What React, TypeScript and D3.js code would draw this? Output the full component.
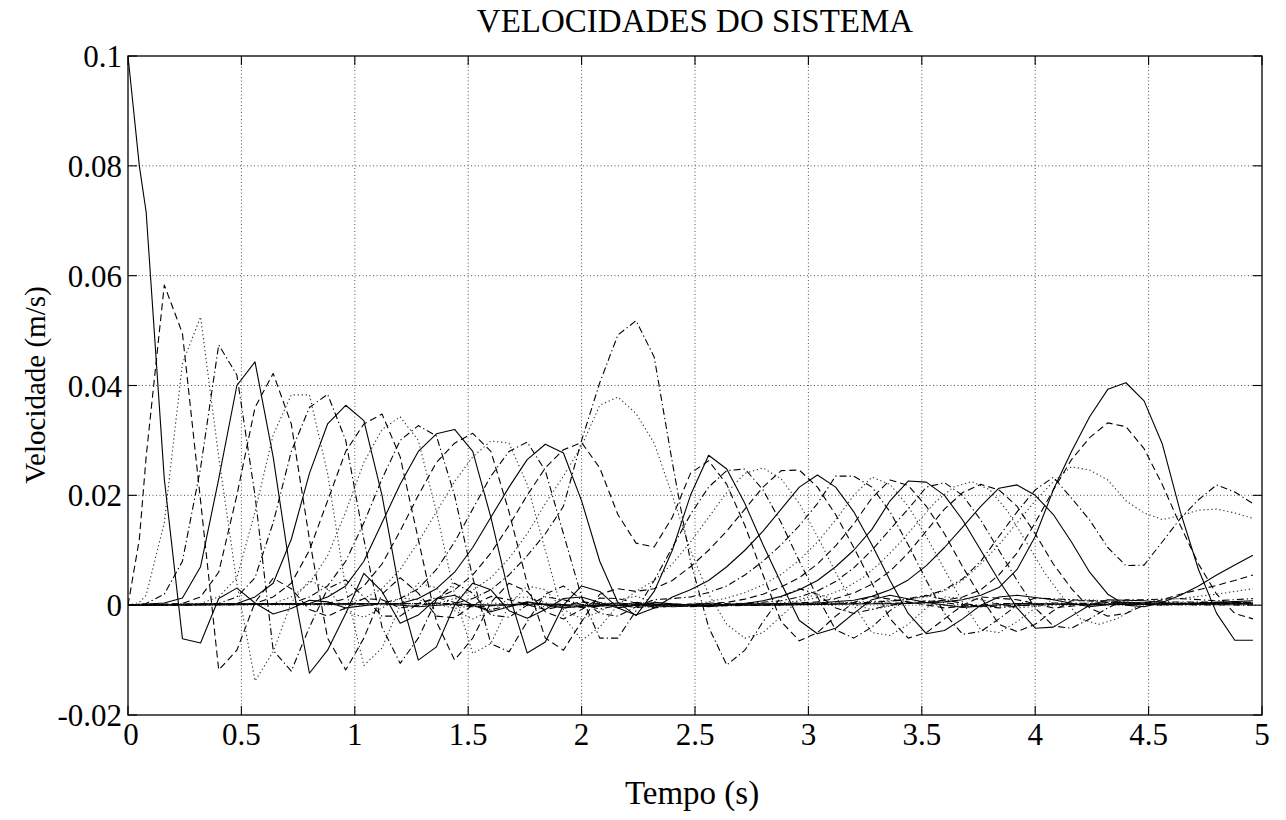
import React from "react";
import * as d3 from "d3";

const TITLE = "VELOCIDADES DO SISTEMA";
const X_LABEL = "Tempo (s)";
const Y_LABEL = "Velocidade (m/s)";

const xTicks = [0, 0.5, 1, 1.5, 2, 2.5, 3, 3.5, 4, 4.5, 5];
const xTickLabels = ["0", "0.5", "1", "1.5", "2", "2.5", "3", "3.5", "4", "4.5", "5"];
const yTicks = [-0.02, 0, 0.02, 0.04, 0.06, 0.08, 0.1];
const yTickLabels = ["-0.02", "0", "0.02", "0.04", "0.06", "0.08", "0.1"];

// Velocity of each mass: [time (s), velocity (mm/s)]
const mass01: [number, number][] = [[0,100],[0.05,80],[0.08,71.6],[0.16,23],[0.24,-6.1],[0.32,-6.9],[0.40,1.2],[0.48,3.1],[0.56,0.4],[0.64,-1.6],[0.72,-0.6],[0.80,0.9],[0.88,0.6],[0.96,-0.5],[1.12,0.3],[1.28,-0.3],[1.44,0.2],[1.60,0],[1.84,0.2],[2.08,-0.1],[2.40,0.1],[2.80,0],[3.20,0.2],[3.44,0.3],[3.60,0.6],[3.68,1],[3.76,1.8],[3.84,3.2],[3.92,6.5],[4.00,12.5],[4.08,21],[4.16,28],[4.24,34.3],[4.32,39.3],[4.40,40.5],[4.48,37.2],[4.56,29.4],[4.64,17],[4.72,6.5],[4.80,-1.5],[4.88,-6.4],[4.96,-6.4]];
const mass02: [number, number][] = [[0,0],[0.05,12],[0.08,27],[0.16,58.3],[0.24,49.5],[0.32,19],[0.40,-11.8],[0.48,-8.2],[0.56,0.5],[0.64,4.9],[0.72,3],[0.80,-0.8],[0.88,-2],[0.96,-0.5],[1.04,1.2],[1.12,1],[1.20,-0.5],[1.36,0.4],[1.52,-0.3],[1.76,0.3],[2.00,-0.2],[2.40,0.2],[2.80,0],[3.20,0.3],[3.44,0.4],[3.60,0.9],[3.68,1.5],[3.76,2.8],[3.84,5.5],[3.92,9.5],[4.00,15],[4.08,21],[4.16,26.5],[4.24,30.5],[4.32,33.2],[4.40,32.5],[4.48,28.5],[4.56,22],[4.64,14.5],[4.72,7.5],[4.80,2],[4.88,-1.5],[4.96,-2.5]];
const mass03: [number, number][] = [[0,0],[0.05,0.5],[0.08,1.8],[0.16,15],[0.24,44],[0.32,52.5],[0.40,27],[0.48,4],[0.56,-13.8],[0.64,-8.5],[0.72,0.5],[0.80,4.5],[0.88,3],[0.96,-1.2],[1.04,-2.2],[1.12,-0.5],[1.20,1.3],[1.28,1],[1.44,-0.6],[1.60,0.4],[1.84,-0.3],[2.08,0.3],[2.40,-0.2],[2.80,0.2],[3.12,0.4],[3.36,0.8],[3.52,1.5],[3.60,2.6],[3.68,4.5],[3.76,7.5],[3.84,11],[3.92,15],[4.00,19],[4.08,22.5],[4.16,25.2],[4.24,24.6],[4.32,22.8],[4.40,19],[4.48,16.8],[4.56,15.6],[4.64,16.3],[4.72,17.3],[4.80,17.5],[4.88,16.8],[4.96,15.8]];
const mass04: [number, number][] = [[0,0],[0.08,0.3],[0.16,2],[0.24,8],[0.32,25],[0.40,47.4],[0.48,41.9],[0.56,20],[0.64,-8.2],[0.72,-12],[0.80,-4],[0.88,3],[0.96,4.6],[1.04,1.5],[1.12,-2],[1.20,-2],[1.28,0.3],[1.36,1.4],[1.44,0.5],[1.60,-0.8],[1.76,0.5],[2.00,-0.4],[2.24,0.3],[2.56,-0.2],[2.96,0.2],[3.28,0.5],[3.44,1],[3.52,1.7],[3.60,2.8],[3.68,4.8],[3.76,8],[3.84,12.5],[3.92,17],[4.00,21],[4.08,23.3],[4.16,19.5],[4.24,15.5],[4.32,10.5],[4.40,7.2],[4.48,7.3],[4.56,11.5],[4.64,15.8],[4.72,19.2],[4.80,21.9],[4.88,20.6],[4.96,18.5]];
const mass05: [number, number][] = [[0,0],[0.16,0.4],[0.24,1.3],[0.32,7],[0.40,23],[0.48,40],[0.56,44.3],[0.64,27],[0.72,5],[0.80,-12.4],[0.88,-8.2],[0.96,-1.5],[1.04,5.8],[1.12,2.5],[1.20,-3.3],[1.28,-1.8],[1.36,1.2],[1.44,1.8],[1.52,0],[1.60,-1.2],[1.76,0.6],[1.92,-0.5],[2.16,0.4],[2.40,-0.3],[2.72,0.2],[3.04,0.4],[3.20,0.9],[3.28,1.6],[3.36,2.8],[3.44,4.6],[3.52,7.2],[3.60,10.5],[3.68,14.2],[3.76,18],[3.84,21.3],[3.92,21.9],[4.00,20],[4.08,16.5],[4.16,11.5],[4.24,6],[4.32,2],[4.40,0],[4.48,-0.3],[4.56,0.5],[4.64,1.8],[4.72,3.5],[4.80,5.5],[4.88,7.3],[4.96,9.1]];
const mass06: [number, number][] = [[0,0],[0.24,0.3],[0.32,1.5],[0.40,6],[0.48,20],[0.56,36],[0.64,42.2],[0.72,33],[0.80,12],[0.88,-6],[0.96,-11.8],[1.04,-6],[1.12,2],[1.20,5],[1.28,2.2],[1.36,-2],[1.44,-2.3],[1.52,0],[1.60,1.6],[1.68,1],[1.84,-0.8],[2.00,0.6],[2.24,-0.4],[2.56,0.3],[2.88,0.2],[3.04,0.6],[3.12,1.2],[3.20,2.2],[3.28,3.8],[3.36,6.2],[3.44,9.5],[3.52,13.5],[3.60,17.5],[3.68,20.5],[3.76,22],[3.84,21],[3.92,18],[4.00,13],[4.08,7.5],[4.16,3],[4.24,-0.5],[4.32,-2],[4.40,-1.5],[4.48,0],[4.56,1],[4.64,2],[4.72,2.8],[4.80,3.6],[4.88,4.5],[4.96,5.5]];
const mass07: [number, number][] = [[0,0],[0.32,0.3],[0.40,1.5],[0.48,5],[0.56,17],[0.64,31],[0.72,38.3],[0.80,38.3],[0.88,24],[0.96,3],[1.04,-11],[1.12,-7.8],[1.20,0],[1.28,4],[1.36,3.2],[1.44,-1],[1.52,-2.5],[1.60,-1],[1.68,1.2],[1.76,1.5],[1.92,-0.6],[2.08,0.5],[2.32,-0.4],[2.64,0.3],[2.88,0.4],[3.00,1],[3.08,1.8],[3.16,3],[3.24,5],[3.32,7.8],[3.40,11.2],[3.48,15],[3.56,18.8],[3.64,21.5],[3.72,22.5],[3.80,21],[3.88,17],[3.96,11.5],[4.04,6],[4.12,1.5],[4.20,-2.5],[4.28,-3.5],[4.36,-2.5],[4.44,-0.5],[4.52,0.8],[4.64,1.2],[4.80,2],[4.96,3]];
const mass08: [number, number][] = [[0,0],[0.40,0.3],[0.48,1.5],[0.56,5],[0.64,15],[0.72,28],[0.80,36],[0.88,38.4],[0.96,30],[1.04,12],[1.12,-4],[1.20,-10.6],[1.28,-6],[1.36,1],[1.44,4],[1.52,2.2],[1.60,-1.8],[1.68,-2.2],[1.76,0],[1.84,1.5],[1.92,1],[2.08,-0.7],[2.24,0.5],[2.48,-0.3],[2.72,0.3],[2.88,0.8],[2.96,1.5],[3.04,2.6],[3.12,4.3],[3.20,6.8],[3.28,10],[3.36,13.8],[3.44,17.5],[3.52,21.5],[3.60,22.3],[3.68,20],[3.76,15.5],[3.84,10],[3.92,4.5],[4.00,-0.5],[4.08,-3.8],[4.16,-4.2],[4.24,-2.5],[4.32,-0.5],[4.40,1],[4.48,1],[4.64,1.2],[4.80,0.8],[4.96,1.2]];
const mass09: [number, number][] = [[0,0],[0.48,0.3],[0.56,1.5],[0.64,4],[0.72,12],[0.80,24],[0.88,33],[0.96,36.4],[1.04,33.6],[1.12,20],[1.20,2],[1.28,-10],[1.36,-7.6],[1.44,0],[1.52,4],[1.60,2.8],[1.68,-1],[1.76,-2.4],[1.84,-0.8],[1.92,1.2],[2.00,1.5],[2.16,-0.5],[2.32,0.5],[2.56,-0.3],[2.72,0.3],[2.80,0.8],[2.88,1.6],[2.96,2.8],[3.04,4.5],[3.12,7],[3.20,10],[3.28,13.8],[3.36,19],[3.44,22.6],[3.52,22.4],[3.60,20],[3.68,15.5],[3.76,10],[3.84,4.5],[3.92,-0.5],[4.00,-4.2],[4.08,-4],[4.16,-2],[4.24,0],[4.32,1],[4.48,0.8],[4.64,0.2],[4.80,0.5],[4.96,0.8]];
const mass10: [number, number][] = [[0,0],[0.56,0.3],[0.64,1.5],[0.72,4],[0.80,10],[0.88,19],[0.96,28],[1.04,33],[1.12,34.8],[1.20,27],[1.28,12],[1.36,-3],[1.44,-10],[1.52,-6],[1.60,0.5],[1.68,4],[1.76,2.5],[1.84,-1.2],[1.92,-2.5],[2.00,-0.8],[2.08,1.3],[2.16,1.2],[2.32,-0.5],[2.48,0.2],[2.64,0.5],[2.72,1.1],[2.80,2],[2.88,3.3],[2.96,5],[3.04,7.5],[3.12,10.8],[3.20,14.8],[3.28,19.5],[3.36,22.8],[3.44,21.8],[3.52,18],[3.60,13],[3.68,7],[3.76,1.5],[3.84,-3.5],[3.92,-4.8],[4.00,-3.5],[4.08,-1],[4.16,0.8],[4.32,0.8],[4.56,0],[4.72,0.4],[4.96,0.5]];
const mass11: [number, number][] = [[0,0],[0.64,0.3],[0.72,1.5],[0.80,4],[0.88,9],[0.96,17],[1.04,26],[1.12,32],[1.20,34.3],[1.28,30],[1.36,17],[1.44,2],[1.52,-8.8],[1.60,-7],[1.68,0],[1.76,3.5],[1.84,2.8],[1.92,-0.8],[2.00,-2.5],[2.08,-1.2],[2.16,1],[2.24,1.6],[2.40,-0.3],[2.56,0.6],[2.64,1.3],[2.72,2.3],[2.80,3.7],[2.88,5.6],[2.96,8.2],[3.04,11.5],[3.12,15.5],[3.20,20],[3.28,23.3],[3.36,22],[3.44,18],[3.52,12.5],[3.60,6.5],[3.68,0.5],[3.76,-4.5],[3.84,-5],[3.92,-3],[4.00,-0.5],[4.08,1],[4.24,1],[4.48,0.2],[4.64,0.5],[4.96,0.4]];
const mass12: [number, number][] = [[0,0],[0.72,0.3],[0.80,1.5],[0.88,3.5],[0.96,8],[1.04,15],[1.12,23],[1.20,30],[1.28,32.7],[1.36,30.8],[1.44,20],[1.52,5],[1.60,-7],[1.68,-8.5],[1.76,-3],[1.84,2],[1.92,3.5],[2.00,1],[2.08,-1.5],[2.16,-2],[2.24,-0.3],[2.32,1],[2.40,1.2],[2.48,1.5],[2.56,2.3],[2.64,3.5],[2.72,5.5],[2.80,8],[2.88,11],[2.96,14.5],[3.04,18.5],[3.12,23.5],[3.20,23.5],[3.28,21.5],[3.36,17],[3.44,11],[3.52,4.5],[3.60,-1.5],[3.68,-5.3],[3.76,-4.8],[3.84,-2.5],[3.92,0],[4.00,1.3],[4.16,1],[4.40,0.3],[4.56,0.6],[4.96,0.5]];
const mass13: [number, number][] = [[0,0],[0.80,0.3],[0.88,1.5],[0.96,3.5],[1.04,8],[1.12,15],[1.20,22],[1.28,28],[1.36,31.2],[1.44,32],[1.52,28],[1.60,16],[1.68,2],[1.76,-8.7],[1.84,-6.7],[1.92,0],[2.00,3.5],[2.08,2.5],[2.16,-0.5],[2.24,-1.8],[2.32,-0.5],[2.40,1.5],[2.48,2.8],[2.56,4.5],[2.64,7],[2.72,10],[2.80,13.5],[2.88,17.5],[2.96,21.5],[3.04,23.7],[3.12,21.5],[3.20,17],[3.28,11],[3.36,4.5],[3.44,-1.5],[3.52,-5.2],[3.60,-4.6],[3.68,-2.5],[3.76,0],[3.84,1.5],[3.92,1.8],[4.08,1],[4.24,-0.3],[4.40,0.5],[4.64,0.2],[4.96,0.4]];
const mass14: [number, number][] = [[0,0],[0.88,0.3],[0.96,1.2],[1.04,3.5],[1.12,7.5],[1.20,13.5],[1.28,20],[1.36,26],[1.44,29.5],[1.52,31.3],[1.60,28],[1.68,17],[1.76,4],[1.84,-6],[1.92,-8.2],[2.00,-3],[2.08,2],[2.16,3],[2.24,2.5],[2.32,3],[2.40,4.5],[2.48,7],[2.56,10],[2.64,13.5],[2.72,17.5],[2.80,21.5],[2.88,24.5],[2.96,24.6],[3.04,21.5],[3.12,16.5],[3.20,10.5],[3.28,4],[3.36,-2.5],[3.44,-6],[3.52,-5],[3.60,-2.5],[3.68,0],[3.76,1.5],[3.92,1],[4.08,-0.5],[4.32,0.5],[4.56,0.3],[4.96,0.5]];
const mass15: [number, number][] = [[0,0],[0.96,0.3],[1.04,1.2],[1.12,3],[1.20,6.5],[1.28,11.5],[1.36,17],[1.44,22.5],[1.52,27],[1.60,29.9],[1.68,29.5],[1.76,22],[1.84,10],[1.92,-2],[2.00,-6.4],[2.08,-4],[2.16,0],[2.24,2.5],[2.32,4.5],[2.40,7.5],[2.48,11.5],[2.56,16],[2.64,20.5],[2.72,24],[2.80,25],[2.88,23],[2.96,18.5],[3.04,12.5],[3.12,6],[3.20,0],[3.28,-5],[3.36,-5.5],[3.44,-3.5],[3.52,-0.5],[3.60,1.5],[3.76,1],[3.92,-0.5],[4.16,0.3],[4.40,0.6],[4.64,0.2],[4.96,0.4]];
const mass16: [number, number][] = [[0,0],[1.12,0.3],[1.20,1.2],[1.28,3],[1.36,6.5],[1.44,11.5],[1.52,17.5],[1.60,23.5],[1.68,28],[1.76,29.7],[1.84,24.5],[1.92,13],[2.00,1.5],[2.08,-6],[2.16,-6],[2.24,-1],[2.32,4.5],[2.40,10.5],[2.48,16.5],[2.56,21.5],[2.64,24.5],[2.72,24.8],[2.80,21],[2.88,15],[2.96,8],[3.04,1.5],[3.12,-4.5],[3.20,-6],[3.28,-4],[3.36,-1],[3.44,1.2],[3.52,1.8],[3.68,0.3],[3.84,-0.5],[4.08,0.4],[4.40,0.2],[4.96,0.3]];
const mass17: [number, number][] = [[0,0],[1.20,0.3],[1.28,1.2],[1.36,3],[1.44,6],[1.52,10.5],[1.60,16],[1.68,21.5],[1.76,26.5],[1.84,29.3],[1.92,27.7],[2.00,19],[2.08,8],[2.16,0.5],[2.24,-1.9],[2.32,2.5],[2.40,10],[2.48,20],[2.56,27.3],[2.64,24.8],[2.72,18.5],[2.80,11],[2.88,4],[2.96,-2.8],[3.04,-5.2],[3.12,-4.2],[3.20,-1.5],[3.28,1],[3.36,1.8],[3.52,0.5],[3.68,-0.4],[3.92,0.3],[4.24,0.1],[4.96,0.2]];
const mass18: [number, number][] = [[0,0],[1.28,0.3],[1.36,1.2],[1.44,2.8],[1.52,5.5],[1.60,9.5],[1.68,14.5],[1.76,20],[1.84,25],[1.92,28.3],[2.00,29.6],[2.08,25],[2.16,16.5],[2.24,11.3],[2.32,10.6],[2.40,16],[2.48,24],[2.56,26.3],[2.64,22],[2.72,14.5],[2.80,5.5],[2.88,-3],[2.96,-6.5],[3.04,-5],[3.12,-2],[3.20,0.5],[3.28,1.6],[3.44,0.6],[3.60,-0.5],[3.84,0.3],[4.24,0.1],[4.96,0.2]];
const mass19: [number, number][] = [[0,0],[1.36,0.3],[1.44,1.2],[1.52,2.7],[1.60,5],[1.68,8.5],[1.76,13],[1.84,18.5],[1.92,23.5],[2.00,29],[2.08,36.4],[2.16,37.9],[2.24,34.9],[2.32,29.5],[2.40,20],[2.48,10],[2.56,2],[2.64,-3.5],[2.72,-6],[2.80,-5],[2.88,-2],[2.96,1],[3.04,2],[3.12,1],[3.28,-0.8],[3.44,0.5],[3.68,-0.3],[4.00,0.2],[4.96,0.1]];
const mass20: [number, number][] = [[0,0],[1.44,0.3],[1.52,1.2],[1.60,2.8],[1.68,5.5],[1.76,9],[1.84,13],[1.92,18],[2.00,30],[2.08,40.5],[2.16,49.2],[2.24,51.8],[2.32,45.2],[2.40,26],[2.48,8],[2.56,-4],[2.64,-10.9],[2.72,-8.2],[2.80,-3],[2.88,1.5],[2.96,3],[3.04,2],[3.12,-0.5],[3.20,-1.5],[3.36,0],[3.52,0.8],[3.76,-0.3],[4.08,0.2],[4.96,0]];

const masses = [mass01, mass02, mass03, mass04, mass05, mass06, mass07, mass08, mass09, mass10,
  mass11, mass12, mass13, mass14, mass15, mass16, mass17, mass18, mass19, mass20];

const W = 1286;
const H = 820;
const M = { left: 128, right: 1262, top: 56, bottom: 715 };
const DASHES = [null, "7,4", "1.3,2.7", "7,3,1.3,3"];
const FONT = "'Liberation Serif', 'Times New Roman', serif";

export default function App() {
  const x = d3.scaleLinear().domain([0, 5]).range([M.left, M.right]);
  const y = d3.scaleLinear().domain([-0.02, 0.1]).range([M.bottom, M.top]);
  const line = d3.line<[number, number]>().x((d) => x(d[0])).y((d) => y(d[1] / 1000));
  const tickLen = 9;

  return (
    <svg width={W} height={H} style={{ position: "absolute", left: 0, top: 0, background: "#fff" }}
      fontFamily={FONT}>
      <rect x={0} y={0} width={W} height={H} fill="#fff" />
      <defs>
        <clipPath id="plotclip">
          <rect x={M.left} y={M.top - 1} width={M.right - M.left} height={M.bottom - M.top + 2} />
        </clipPath>
      </defs>
      {/* grid */}
      <g stroke="#000" strokeWidth={0.9} strokeDasharray="1,2.5" opacity={0.75}>
        {xTicks.slice(1, -1).map((t) => (
          <line key={"gx" + t} x1={x(t)} x2={x(t)} y1={M.top} y2={M.bottom} />
        ))}
        {yTicks.slice(1, -1).map((t) => (
          <line key={"gy" + t} x1={M.left} x2={M.right} y1={y(t)} y2={y(t)} />
        ))}
      </g>
      {/* data */}
      <g clipPath="url(#plotclip)" fill="none">
        {masses.map((m, i) => {
          const dash = DASHES[i % 4];
          return (
            <path key={"m" + i} d={line(m) || ""} stroke={dash === "1.3,2.7" ? "#333" : "#000"}
              strokeWidth={1.1} strokeDasharray={dash || undefined} strokeLinejoin="round" />
          );
        })}
      </g>
      {/* frame */}
      <rect x={M.left} y={M.top} width={M.right - M.left} height={M.bottom - M.top}
        fill="none" stroke="#000" strokeWidth={1.3} />
      {/* ticks */}
      <g stroke="#000" strokeWidth={1.1}>
        {xTicks.map((t) => (
          <g key={"tx" + t}>
            <line x1={x(t)} x2={x(t)} y1={M.bottom} y2={M.bottom - tickLen} />
            <line x1={x(t)} x2={x(t)} y1={M.top} y2={M.top + tickLen} />
          </g>
        ))}
        {yTicks.map((t) => (
          <g key={"ty" + t}>
            <line x1={M.left} x2={M.left + tickLen} y1={y(t)} y2={y(t)} />
            <line x1={M.right} x2={M.right - tickLen} y1={y(t)} y2={y(t)} />
          </g>
        ))}
      </g>
      {/* tick labels */}
      <g fontSize={31} fill="#000">
        {xTicks.map((t, i) => (
          <text key={"lx" + t} x={x(t) + (i === 0 ? 3 : 0)} y={M.bottom + 30} textAnchor="middle">{xTickLabels[i]}</text>
        ))}
        {yTicks.map((t, i) => (
          <text key={"ly" + t} x={M.left - 6} y={y(t) + 11} textAnchor="end">{yTickLabels[i]}</text>
        ))}
      </g>
      <text x={(M.left + M.right) / 2} y={32} textAnchor="middle" fontSize={33}>{TITLE}</text>
      <text x={(M.left + M.right) / 2 - 3} y={804} textAnchor="middle" fontSize={33}>{X_LABEL}</text>
      <text transform="translate(45, 385) rotate(-90)" textAnchor="middle" fontSize={29}>{Y_LABEL}</text>
    </svg>
  );
}
